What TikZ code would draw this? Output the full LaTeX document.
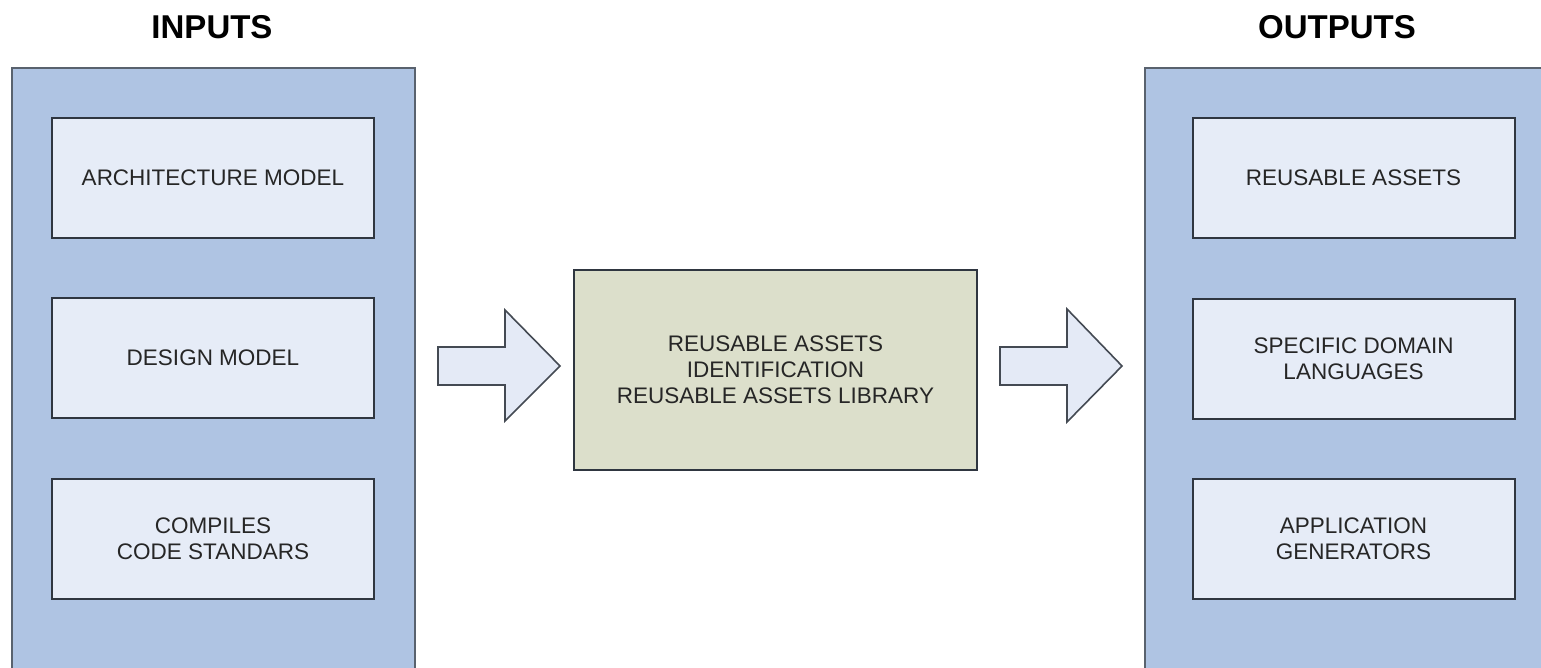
\documentclass[tikz,border=0pt]{standalone}
\usepackage{fontspec}
\setmainfont{Liberation Sans}
\definecolor{outerfill}{HTML}{AFC4E3}
\definecolor{outerline}{HTML}{59626E}
\definecolor{innerfill}{HTML}{E6ECF7}
\definecolor{innerline}{HTML}{2F3640}
\definecolor{centerfill}{HTML}{DCDFCB}
\definecolor{arrowfill}{HTML}{E4EAF6}
\definecolor{textcol}{HTML}{262626}
\begin{document}
\begin{tikzpicture}[x=1pt,y=-1pt,
  outerfillst/.style={fill=outerfill},
  outerbox/.style={draw=outerline,line width=2.5pt},
  innerbox/.style={draw=innerline,fill=innerfill,line width=2pt,minimum width=322pt,minimum height=120pt,inner sep=0pt,align=center,text=textcol,font=\fontsize{22.5}{26}\selectfont},
  centerbox/.style={draw=innerline,fill=centerfill,line width=2pt,minimum width=403pt,minimum height=200pt,inner sep=0pt,align=center,text=textcol,font=\fontsize{22.5}{26}\selectfont},
  titletext/.style={anchor=base,font=\fontsize{33}{38}\selectfont\bfseries,text=black},
  blockarrow/.style={draw=innerline!90,fill=arrowfill,line width=1.6pt,line join=miter}]
\useasboundingbox (0,0) rectangle (1541,667);
\fill[white] (0,0) rectangle (1541,667);
\clip (0,0) rectangle (1541,667);

% titles
\node[titletext] (tin) at (212,38) {INPUTS};
\node[titletext] (tout) at (1337,38) {OUTPUTS};

% outer panels
\fill[outerfillst] (12,68) rectangle (415,690);
\draw[outerbox] (12,690) -- (12,68) -- (415,68) -- (415,690);
\fill[outerfillst] (1145,68) rectangle (1560,690);
\draw[outerbox] (1145,690) -- (1145,68) -- (1560,68);

% inner boxes (inputs)
\node[innerbox] (arch) at (213,178) {ARCHITECTURE MODEL};
\node[innerbox] (design) at (213,358) {DESIGN MODEL};
\node[innerbox] (comp) at (213,539) {COMPILES\\CODE STANDARS};

% inner boxes (outputs)
\node[innerbox] (reuse) at (1353.5,178) {REUSABLE ASSETS};
\node[innerbox] (sdl) at (1353.5,359) {SPECIFIC DOMAIN\\LANGUAGES};
\node[innerbox] (gen) at (1353.5,539) {APPLICATION\\GENERATORS};

% center box
\node[centerbox] (center) at (775.5,370) {REUSABLE ASSETS\\IDENTIFICATION\\REUSABLE ASSETS LIBRARY};

% block arrows
\coordinate (a1) at (438,366);
\draw[blockarrow] (a1) ++(0,-19) -- ++(67,0) -- ++(0,-37) -- ++(55,56) -- ++(-55,55) -- ++(0,-36) -- ++(-67,0) -- cycle;
\coordinate (a2) at (1000,366);
\draw[blockarrow] (a2) ++(0,-19) -- ++(67,0) -- ++(0,-38) -- ++(55,57) -- ++(-55,56) -- ++(0,-37) -- ++(-67,0) -- cycle;
\end{tikzpicture}
\end{document}
